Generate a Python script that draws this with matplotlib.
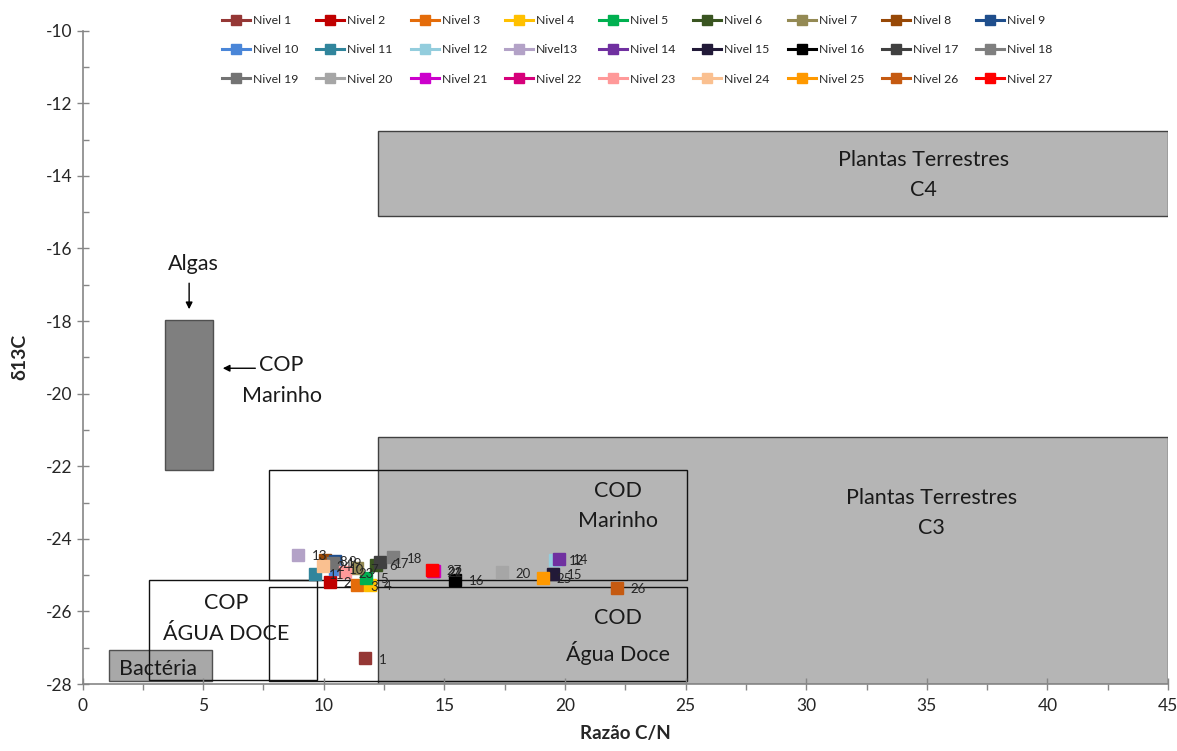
import matplotlib
matplotlib.use("Agg")
import matplotlib.pyplot as plt
from matplotlib.patches import Rectangle

plt.rcParams['font.family'] = ['Lato', 'DejaVu Sans']
plt.rcParams['axes.unicode_minus'] = False

# Sample levels: C/N ratio and delta 13C
niveis = ['Nivel 1', 'Nivel 2', 'Nivel 3', 'Nivel 4', 'Nivel 5', 'Nivel 6', 'Nivel 7',
          'Nivel 8', 'Nivel 9', 'Nivel 10', 'Nivel 11', 'Nivel 12', 'Nivel13', 'Nivel 14',
          'Nivel 15', 'Nivel 16', 'Nivel 17', 'Nivel 18', 'Nivel 19', 'Nivel 20', 'Nivel 21',
          'Nivel 22', 'Nivel 23', 'Nivel 24', 'Nivel 25', 'Nivel 26', 'Nivel 27']
rotulos = [str(i) for i in range(1, 28)]
razao_cn = [11.72, 10.25, 11.36, 11.91, 11.77, 12.16, 11.36, 10.07, 10.46, 10.46,
            9.63, 19.57, 8.94, 19.74, 19.50, 15.46, 12.32, 12.87, 10.39, 17.39,
            14.57, 14.54, 10.87, 9.96, 19.09, 22.15, 14.49]
d13c = [-27.29, -25.19, -25.28, -25.27, -25.07, -24.71, -24.81, -24.59, -24.60, -24.82,
        -24.97, -24.57, -24.44, -24.55, -24.97, -25.13, -24.65, -24.51, -24.66, -24.92,
        -24.90, -24.89, -24.92, -24.75, -25.08, -25.35, -24.86]
cores = ['#953735', '#c00000', '#e46c0a', '#ffc000', '#00b050', '#3a5521', '#948a54',
         '#974806', '#1f4e8c', '#4a86d8', '#31859c', '#93cddd', '#b3a2c7', '#7030a0',
         '#221a38', '#000000', '#404040', '#7f7f7f', '#737373', '#a6a6a6', '#cc00cc',
         '#d6007a', '#ff9999', '#fac090', '#ff9900', '#c55a11', '#ff0000']

# Source fields (C/N range and delta 13C range)
campos = ['Plantas Terrestres\nC4', 'Plantas Terrestres\nC3', 'Algas', 'Bactéria',
          'COD\nMarinho', 'COD\nÁgua Doce', 'COP\nÁGUA DOCE']
campo_x0 = [12.24, 12.24, 3.42, 1.11, 7.73, 7.73, 2.74]
campo_x1 = [45.0, 45.0, 5.41, 5.36, 25.04, 25.04, 9.74]
campo_y0 = [-15.11, -28.0, -22.09, -27.92, -25.13, -27.92, -27.88]
campo_y1 = [-12.75, -21.2, -17.98, -27.07, -22.09, -25.34, -25.13]
campo_fill = ['#b5b5b5', '#b5b5b5', '#7f7f7f', '#a8a8a8', 'none', 'none', 'none']
campo_edge = ['#404040', '#404040', '#505050', '#505050', '#111111', '#111111', '#111111']

fig = plt.figure(figsize=(11.77, 7.51), dpi=100)
ax = fig.add_axes([0.0701, 0.0892, 0.9223, 0.8699])

for x0, x1, y0, y1, fc, ec in zip(campo_x0, campo_x1, campo_y0, campo_y1,
                                  campo_fill, campo_edge):
    ax.add_patch(Rectangle((x0, y0), x1 - x0, y1 - y0, facecolor=fc,
                           edgecolor=ec, linewidth=1.0, zorder=1))

txt = dict(ha='center', va='center', fontsize=15.5, color='#1a1a1a', zorder=2,
           linespacing=1.65)
ax.text(34.86, -13.98, 'Plantas Terrestres\nC4', **txt)
ax.text(35.2, -23.28, 'Plantas Terrestres\nC3', **txt)
ax.text(22.2, -23.1, 'COD\nMarinho', **txt)
ax.text(22.2, -26.7, 'COD\nÁgua Doce', **txt)
ax.text(5.94, -26.2, 'COP\nÁGUA DOCE', **txt)
ax.text(3.13, -27.6, 'Bactéria', **txt)
ax.text(4.59, -16.42, 'Algas', **txt)
ax.text(8.25, -19.64, 'COP\nMarinho', **txt)

seta = dict(arrowstyle='-|>', color='black', lw=1.0, mutation_scale=10)
ax.annotate('', xy=(4.42, -17.75), xytext=(4.42, -16.88), arrowprops=seta, zorder=2)
ax.annotate('', xy=(5.70, -19.30), xytext=(7.28, -19.30), arrowprops=seta, zorder=2)

handles = []
for nome, r, x, y, c in zip(niveis, rotulos, razao_cn, d13c, cores):
    h, = ax.plot([x], [y], marker='s', markersize=8.5, color=c, markeredgecolor=c,
                 linestyle='-', linewidth=2.2, label=nome, zorder=3)
    handles.append(h)
    ax.annotate(r, (x, y), xytext=(10, -1), textcoords='offset points',
                ha='left', va='center', fontsize=9.5, color='#262626', zorder=4)

ax.set_xlim(0, 45)
ax.set_ylim(-28, -10)
ax.set_xticks(range(0, 46, 5))
ax.set_yticks(range(-28, -9, 2))
ax.set_xticks([x + 2.5 for x in range(0, 45, 5)], minor=True)
ax.set_yticks(range(-27, -10, 2), minor=True)
ax.tick_params(axis='both', which='major', direction='inout', length=8, width=1,
               color='#868686', labelsize=12.5, labelcolor='#262626')
ax.tick_params(axis='y', which='minor', direction='in', length=4, width=1, color='#868686')
ax.tick_params(axis='x', which='minor', direction='out', length=4, width=1, color='#868686')
ax.tick_params(axis='x', which='major', pad=6)
for s in ['top', 'right']:
    ax.spines[s].set_visible(False)
for s in ['left', 'bottom']:
    ax.spines[s].set_color('#868686')
    ax.spines[s].set_linewidth(1.2)

ax.set_xlabel('Razão C/N', fontsize=13.5, fontweight='bold', color='#262626', labelpad=8)
ax.set_ylabel('δ13C', fontsize=14, fontweight='bold', color='#262626', labelpad=12)

# legend filled row by row: 9 columns x 3 rows
ordem = [j + 9 * k for j in range(9) for k in range(3)]
fig.legend([handles[i] for i in ordem], [niveis[i] for i in ordem], ncol=9,
           loc='upper left', bbox_to_anchor=(222 / 1177, 1 - 15 / 751), frameon=False,
           fontsize=8.8, handlelength=2.3, handletextpad=0.25, columnspacing=1.45,
           labelspacing=1.5, borderpad=0, borderaxespad=0, markerscale=0.85,
           labelcolor='#262626')

fig.savefig('out.png', dpi=100)
